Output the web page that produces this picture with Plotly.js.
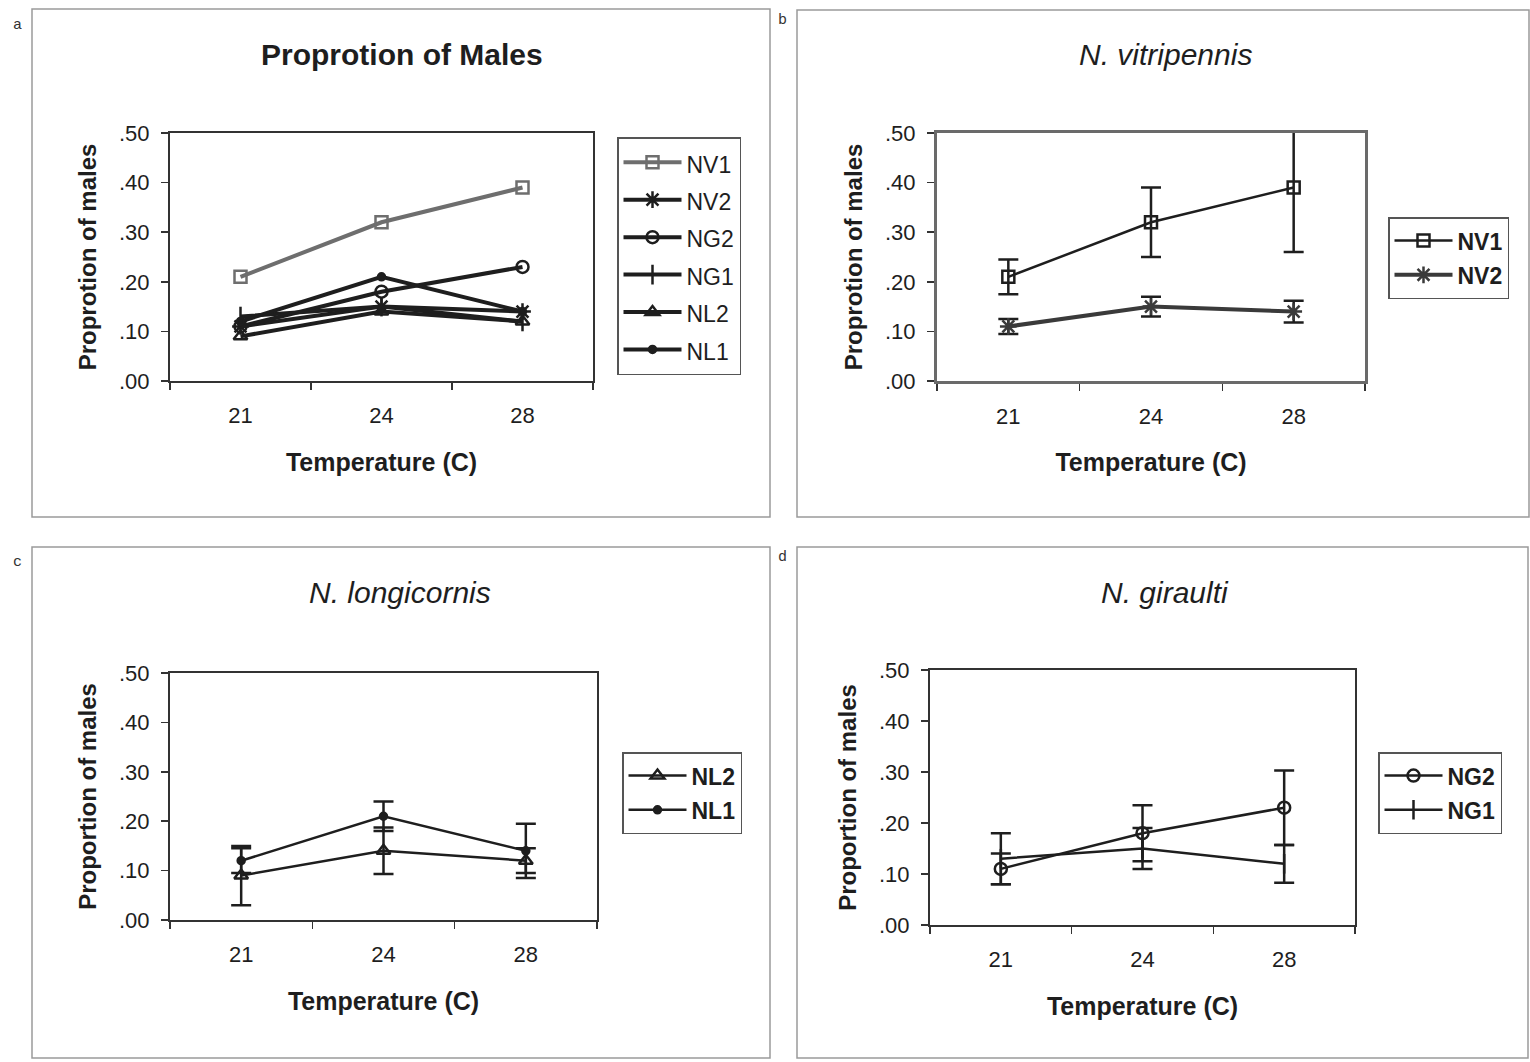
<!DOCTYPE html>
<html>
<head>
<meta charset="utf-8">
<script src="https://cdn.plot.ly/plotly-3.0.1.min.js"></script>
<style>
  html, body { margin: 0; padding: 0; background: #ffffff; }
  #chart { width: 1530px; height: 1062px; }
</style>
</head>
<body>
<div id="chart"></div>
<script>
// ---------- data ----------
const temps = ['21', '24', '28'];
const yTickVals = [0, 0.1, 0.2, 0.3, 0.4, 0.5];
const yTickText = ['.00', '.10', '.20', '.30', '.40', '.50'];

const NV1 = [0.21, 0.32, 0.39];
const NV1_err = [0.035, 0.07, 0.13];
const NV2 = [0.11, 0.15, 0.14];
const NV2_err = [0.015, 0.02, 0.022];
const NG2 = [0.11, 0.18, 0.23];
const NG2_err = [0.03, 0.055, 0.073];
const NG1 = [0.13, 0.15, 0.12];
const NG1_err = [0.05, 0.04, 0.037];
const NL2 = [0.09, 0.14, 0.12];
const NL2_err = [0.06, 0.047, 0.025];
const NL1 = [0.12, 0.21, 0.14];
const NL1_err = [0.025, 0.03, 0.055];

const panelTitles = ['Proprotion of Males', '<i>N. vitripennis</i>', '<i>N. longicornis</i>', '<i>N. giraulti</i>'];
const panelLetters = ['a', 'b', 'c', 'd'];
const yTitles = ['Proprotion of males', 'Proprotion of males', 'Proportion of males', 'Proportion of males'];
const xTitle = 'Temperature (C)';

// ---------- styling ----------
const FONT = 'Liberation Sans, Arial, sans-serif';
const INK = '#1e1e1e';
const W = 1530, H = 1062;
const px = v => v / W;
const py = v => 1 - v / H;

const symbols = {
  NV1: {symbol: 'square-open', size: 12},
  NV2: {symbol: 'asterisk-open', size: 14},
  NG2: {symbol: 'circle-open', size: 12},
  NG1: {symbol: 'line-ns-open', size: 14},
  NL2: {symbol: 'triangle-up-open', size: 12},
  NL1: {symbol: 'circle', size: 7}
};

function trace(name, y, err, xa, ya, legend, opts) {
  opts = opts || {};
  const col = opts.color || INK;
  const s = symbols[name];
  const label = opts.bold ? '<b>' + name + '</b>' : name;
  const t = {
    type: 'scatter', mode: 'lines+markers',
    x: temps, y: y, xaxis: xa, yaxis: ya, legend: legend,
    name: '<span style="font-size:23px">' + label + '</span>',
    line: {color: col, width: opts.lw || 2.5},
    marker: {symbol: s.symbol, size: s.size, color: col, line: {color: col, width: 2.5}},
    cliponaxis: true
  };
  if (err) {
    t.error_y = {type: 'data', array: err, visible: true, color: INK, thickness: 2.5, width: 10};
  }
  return t;
}

const data = [
  // panel a
  trace('NV1', NV1, null, 'x', 'y', 'legend', {color: '#6e6e6e', lw: 4}),
  trace('NV2', NV2, null, 'x', 'y', 'legend', {lw: 4}),
  trace('NG2', NG2, null, 'x', 'y', 'legend', {lw: 4}),
  trace('NG1', NG1, null, 'x', 'y', 'legend', {lw: 4}),
  trace('NL2', NL2, null, 'x', 'y', 'legend', {lw: 4}),
  trace('NL1', NL1, null, 'x', 'y', 'legend', {lw: 4}),
  // panel b
  trace('NV1', NV1, NV1_err, 'x2', 'y2', 'legend2', {lw: 2.5, bold: true}),
  trace('NV2', NV2, NV2_err, 'x2', 'y2', 'legend2', {color: '#3a3a3a', lw: 4, bold: true}),
  // panel c
  trace('NL2', NL2, NL2_err, 'x3', 'y3', 'legend3', {lw: 2.5, bold: true}),
  trace('NL1', NL1, NL1_err, 'x3', 'y3', 'legend3', {lw: 2.5, bold: true}),
  // panel d
  trace('NG2', NG2, NG2_err, 'x4', 'y4', 'legend4', {lw: 2.5, bold: true}),
  trace('NG1', NG1, NG1_err, 'x4', 'y4', 'legend4', {lw: 2.5, bold: true})
];

// plot-area pixel boxes [left, right, top, bottom]
const boxes = [
  [170, 593, 133, 381],
  [937, 1365, 133, 381],
  [170, 597, 673, 920],
  [930, 1355, 670, 925]
];

function xaxis(i, anchor) {
  const b = boxes[i];
  return {
    domain: [px(b[0]), px(b[1])], anchor: anchor,
    type: 'category', categoryorder: 'array', categoryarray: temps,
    range: [-0.5, 2.5], tickson: 'boundaries',
    ticks: 'outside', ticklen: 7, tickwidth: 1.5, tickcolor: '#333',
    ticklabelstandoff: 14,
    showline: true, mirror: true, linecolor: i === 1 ? '#6a6a6a' : '#333', linewidth: i === 1 ? 3 : 2,
    showgrid: false, zeroline: false, automargin: false,
    tickfont: {family: FONT, size: 22, color: INK},
    title: {text: '<b>' + xTitle + '</b>', font: {family: FONT, size: 25, color: INK}, standoff: 26}
  };
}
function yaxis(i, anchor) {
  const b = boxes[i];
  return {
    domain: [py(b[3]), py(b[2])], anchor: anchor,
    range: [0, 0.5], tickvals: yTickVals, ticktext: yTickText,
    ticks: 'outside', ticklen: 7, tickwidth: 1.5, tickcolor: '#333',
    ticklabelstandoff: 7,
    showline: true, mirror: true, linecolor: i === 1 ? '#6a6a6a' : '#333', linewidth: i === 1 ? 3 : 2,
    showgrid: false, zeroline: false, automargin: false,
    tickfont: {family: FONT, size: 22, color: INK},
    title: {text: '<b>' + yTitles[i] + '</b>', font: {family: FONT, size: 24, color: INK}, standoff: 16}
  };
}

function legendCfg(x, y, fs) {
  return {
    x: px(x), y: py(y), xanchor: 'left', yanchor: 'top',
    bgcolor: '#ffffff', bordercolor: '#555', borderwidth: 1.5,
    font: {family: FONT, size: fs, color: INK},
    itemwidth: 58, tracegroupgap: 0
  };
}

const panels = [
  [32, 770, 9, 517],
  [797, 1529, 10, 517],
  [32, 770, 547, 1058],
  [797, 1528, 547, 1058]
];
const shapes = panels.map(p => ({
  type: 'rect', xref: 'paper', yref: 'paper',
  x0: px(p[0]), x1: px(p[1]), y0: py(p[3]), y1: py(p[2]),
  line: {color: '#9a9a9a', width: 1.5}, layer: 'below'
}));

const titleCenters = [[402, 55], [1165, 55], [400, 592], [1165, 592]];
const annotations = [];
titleCenters.forEach((c, i) => {
  annotations.push({
    xref: 'paper', yref: 'paper', x: px(c[0]), y: py(c[1]),
    xanchor: 'center', yanchor: 'middle', showarrow: false,
    text: i === 0 ? '<b>' + panelTitles[i] + '</b>' : panelTitles[i],
    font: {family: FONT, size: 30, color: INK}
  });
});
const letterPos = [[17, 25], [783, 21], [17, 562], [783, 557]];
letterPos.forEach((c, i) => {
  annotations.push({
    xref: 'paper', yref: 'paper', x: px(c[0]), y: py(c[1]),
    xanchor: 'center', yanchor: 'middle', showarrow: false,
    text: panelLetters[i],
    font: {family: 'Liberation Mono, Courier New, monospace', size: 15, color: '#333'}
  });
});

const layout = {
  width: W, height: H,
  margin: {l: 0, r: 0, t: 0, b: 0},
  paper_bgcolor: '#ffffff', plot_bgcolor: '#ffffff',
  showlegend: true,
  xaxis: xaxis(0, 'y'), yaxis: yaxis(0, 'x'),
  xaxis2: xaxis(1, 'y2'), yaxis2: yaxis(1, 'x2'),
  xaxis3: xaxis(2, 'y3'), yaxis3: yaxis(2, 'x3'),
  xaxis4: xaxis(3, 'y4'), yaxis4: yaxis(3, 'x4'),
  legend: legendCfg(617, 137, 26.5),
  legend2: legendCfg(1388, 217, 24),
  legend3: legendCfg(622, 752, 24),
  legend4: legendCfg(1378, 752, 24),
  shapes: shapes,
  annotations: annotations
};

Plotly.newPlot('chart', data, layout, {displayModeBar: false, staticPlot: true});
</script>
</body>
</html>
